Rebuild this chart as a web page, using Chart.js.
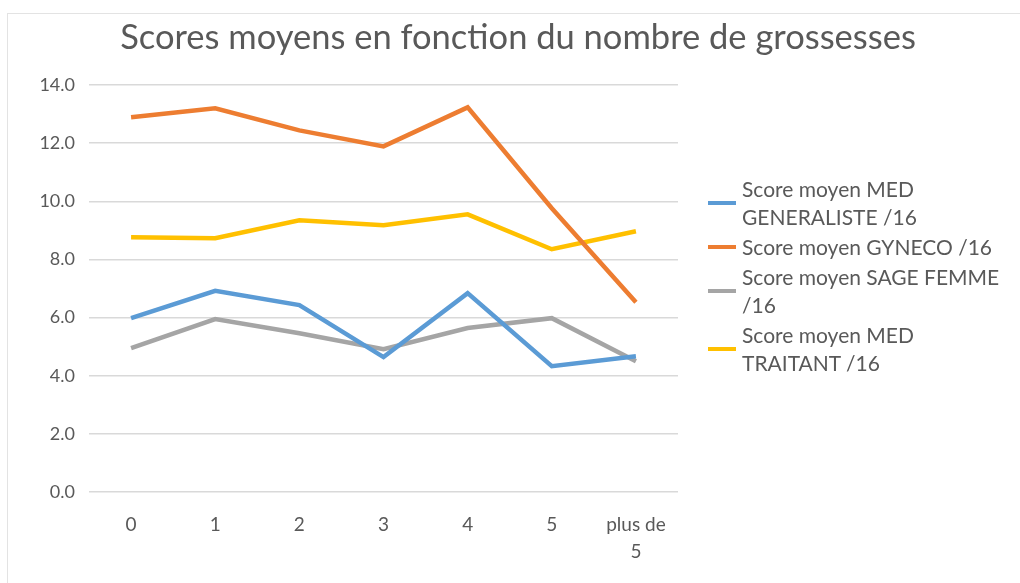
<!DOCTYPE html>
<html>
<head>
<meta charset="utf-8">
<script src="https://cdn.jsdelivr.net/npm/chart.js@4"></script>
<style>
  body { margin: 0; background: #fff; }
  #wrap { position: relative; width: 1020px; height: 583px; }
  #frame { position: absolute; left: 7px; top: 13px; width: 1020px; height: 580px;
           border-left: 1px solid #e3e3e3; border-top: 1px solid #e3e3e3; box-sizing: border-box; }
  #titre { position: absolute; left: 0; width: 1036px; top: 15px; text-align: center;
           font-family: Lato, sans-serif; font-size: 34.5px; color: #595959; }
  #legende { position: absolute; left: 708px; top: 175px; font-family: Lato, sans-serif;
             font-size: 21px; color: #595959; line-height: 28px; }
  .item { position: relative; padding-left: 34px; margin-bottom: 2px; }
  .item span.trait { position: absolute; left: 0; top: 50%; width: 28px; height: 4px; margin-top: -2px; }
  canvas { position: absolute; left: 0; top: 0; }
</style>
</head>
<body>
<div id="wrap">
  <div id="frame"></div>
  <canvas id="graf" width="1020" height="583"></canvas>
  <div id="titre">Scores moyens en fonction du nombre de grossesses</div>
  <div id="legende"></div>
</div>
<script>
// categories (nombre de grossesses)
var categories = ["0", "1", "2", "3", "4", "5", ["plus de", "5"]]

// séries
var medGeneraliste = [5.98, 6.92, 6.43, 4.64, 6.84, 4.33, 4.67]
var gyneco         = [12.89, 13.2, 12.44, 11.89, 13.23, 9.76, 6.53]
var sageFemme      = [4.95, 5.95, 5.46, 4.91, 5.64, 5.98, 4.5]
var medTraitant    = [8.76, 8.73, 9.35, 9.18, 9.55, 8.35, 8.97]

var noms = [
  ["Score moyen MED", "GENERALISTE /16"],
  ["Score moyen GYNECO /16"],
  ["Score moyen SAGE FEMME", "/16"],
  ["Score moyen MED", "TRAITANT /16"]
]
var couleurs = ["#5b9bd5", "#ed7d31", "#a5a5a5", "#ffc000"]
var series = [medGeneraliste, gyneco, sageFemme, medTraitant]

var datasets = series.map(function(s, i){
  return {
    label: noms[i].join(" "),
    data: s,
    borderColor: couleurs[i],
    backgroundColor: couleurs[i],
    borderWidth: 4.5,
    pointRadius: 0,
    tension: 0
  }
})

// légende html (texte sur plusieurs lignes)
var leg = document.getElementById("legende")
noms.forEach(function(n, i){
  var d = document.createElement("div")
  d.className = "item"
  d.innerHTML = '<span class="trait" style="background:' + couleurs[i] + '"></span>' + n.join("<br>")
  leg.appendChild(d)
})

var police = { family: "Lato, sans-serif", size: 19, lineHeight: 1.45 }

new Chart(document.getElementById("graf"), {
  type: "line",
  data: { labels: categories, datasets: datasets },
  options: {
    responsive: false,
    animation: false,
    layout: { padding: { left: 9, top: 85, right: 342, bottom: 11 } },
    plugins: {
      legend: { display: false },
      title: { display: false },
      tooltip: { enabled: false }
    },
    scales: {
      x: {
        offset: true,
        grid: { display: false },
        border: { display: false },
        ticks: { color: "#595959", font: police, maxRotation: 0, autoSkip: false, padding: 11 },
        afterFit: function(sc){ sc.height = 80 }
      },
      y: {
        min: 0, max: 14,
        grid: { color: "#d9d9d9", lineWidth: 1.5, drawTicks: false },
        border: { display: false },
        ticks: {
          stepSize: 2, color: "#595959", font: { family: "Lato, sans-serif", size: 18 }, padding: 14,
          callback: function(v){ return v.toFixed(1) }
        },
        afterFit: function(sc){ sc.width = 80 }
      }
    }
  }
})
</script>
</body>
</html>
